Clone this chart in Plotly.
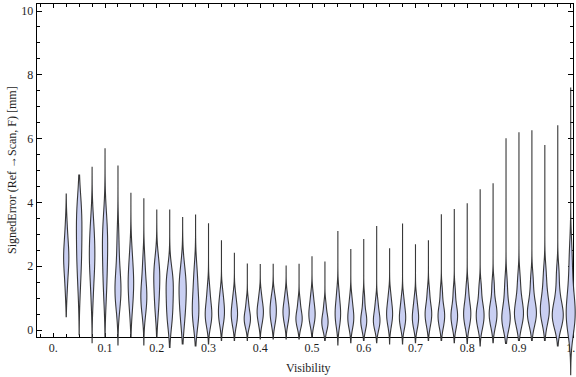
import plotly.graph_objects as go

# ---- data ----
visibility = [0.025, 0.05, 0.075, 0.1, 0.125, 0.15, 0.175, 0.2, 0.225, 0.25,
              0.275, 0.3, 0.325, 0.35, 0.375, 0.4, 0.425, 0.45, 0.475, 0.5,
              0.525, 0.55, 0.575, 0.6, 0.625, 0.65, 0.675, 0.7, 0.725, 0.75,
              0.775, 0.8, 0.825, 0.85, 0.875, 0.9, 0.925, 0.95, 0.975, 1.0]

err_max = [4.26, 4.86, 5.10, 5.70, 5.14, 4.30, 4.11, 3.78, 3.76, 3.54,
           3.60, 3.35, 2.80, 2.42, 2.07, 2.07, 2.06, 2.02, 2.06, 2.31,
           2.13, 3.10, 2.52, 2.85, 3.26, 2.56, 3.34, 2.69, 2.80, 3.63,
           3.79, 3.97, 4.41, 4.60, 6.01, 6.20, 6.26, 5.80, 6.42, 7.60]

err_min = [0.42, -0.15, -0.40, -0.20, -0.47, -0.20, -0.47, -0.22, -0.55, -0.44,
           -0.50, -0.44, -0.33, -0.33, -0.33, -0.28, -0.28, -0.28, -0.28, -0.22,
           -0.33, -0.47, -0.40, -0.33, -0.40, -0.44, -0.44, -0.40, -0.33, -0.33,
           -0.40, -0.42, -0.50, -0.40, -0.42, -0.33, -0.33, -0.33, -0.50, -1.40]

err_body = [
    [1.2, 1.7, 2.0, 2.2, 2.35, 2.5, 2.8, 3.3],
    [1.3, 2.0, 2.3, 2.6, 3.1, 3.5, 3.7, 3.9],
    [1.0, 1.6, 2.0, 2.25, 2.4, 2.7, 3.1, 3.4],
    [1.0, 1.5, 1.9, 2.3, 2.6, 2.9, 3.2, 3.5],
    [0.7, 1.0, 1.2, 1.3, 1.45, 1.8, 2.3, 3.0],
    [0.6, 1.0, 1.3, 1.5, 1.7, 2.0, 2.5],
    [0.5, 0.8, 1.0, 1.15, 1.3, 1.7, 2.2],
    [0.5, 0.9, 1.2, 1.5, 1.75, 1.9, 2.2],
    [0.2, 0.5, 0.8, 1.1, 1.4, 1.6, 1.8],
    [0.2, 0.6, 0.9, 1.2, 1.4, 1.6, 2.0],
    [0.2, 0.4, 0.6, 0.8, 1.1, 1.5, 1.9],
    [0.2, 0.35, 0.5, 0.65, 0.9, 1.3],
    [0.2, 0.4, 0.55, 0.7, 0.9, 1.2],
    [0.15, 0.35, 0.5, 0.6, 0.8, 1.1],
    [0.1, 0.25, 0.35, 0.45, 0.6, 0.9],
    [0.2, 0.4, 0.55, 0.65, 0.8, 1.1],
    [0.2, 0.4, 0.55, 0.7, 0.85, 1.1],
    [0.2, 0.4, 0.55, 0.65, 0.8, 1.1],
    [0.1, 0.25, 0.35, 0.45, 0.6, 0.9],
    [0.2, 0.35, 0.5, 0.6, 0.8, 1.1],
    [0.0, 0.15, 0.25, 0.35, 0.5, 0.8],
    [0.15, 0.35, 0.5, 0.65, 0.85, 1.2],
    [0.1, 0.25, 0.4, 0.5, 0.7, 1.0],
    [0.05, 0.2, 0.3, 0.4, 0.6, 1.0],
    [0.05, 0.2, 0.3, 0.4, 0.6, 0.9],
    [0.15, 0.35, 0.5, 0.6, 0.8, 1.1],
    [0.1, 0.25, 0.4, 0.5, 0.7, 1.0],
    [0.1, 0.25, 0.4, 0.5, 0.7, 1.0],
    [0.15, 0.35, 0.5, 0.6, 0.8, 1.2],
    [0.1, 0.3, 0.45, 0.55, 0.75, 1.2],
    [0.1, 0.3, 0.45, 0.55, 0.75, 1.2],
    [0.15, 0.35, 0.5, 0.65, 0.85, 1.3],
    [0.1, 0.3, 0.45, 0.6, 0.8, 1.3],
    [0.15, 0.35, 0.5, 0.65, 0.85, 1.4],
    [0.1, 0.25, 0.35, 0.45, 0.6, 1.0, 1.5],
    [0.2, 0.35, 0.5, 0.6, 0.75, 1.1, 1.6],
    [0.2, 0.4, 0.5, 0.6, 0.75, 1.1, 1.6],
    [0.3, 0.5, 0.6, 0.7, 0.9, 1.3, 1.8],
    [0.1, 0.3, 0.4, 0.5, 0.6, 0.8, 1.2, 1.8],
    [0.1, 0.25, 0.4, 0.5, 0.65, 0.9, 1.3, 1.9, 2.5],
]

x_tickvals = [0.0, 0.1, 0.2, 0.3, 0.4, 0.5, 0.6, 0.7, 0.8, 0.9, 1.0]
x_ticktext = ["0.", "0.1", "0.2", "0.3", "0.4", "0.5", "0.6", "0.7", "0.8", "0.9", "1."]
y_tickvals = [0, 2, 4, 6, 8, 10]
y_ticktext = ["0", "2", "4", "6", "8", "10"]

x_title = "Visibility"
y_title = "SignedError (Ref \u2192Scan, F) [mm]"

# ---- styling (visual sizes, pixels) ----
peak_width_px = [5.2, 5.5, 5.5, 5.2, 6.0, 5.5, 6.0, 6.0, 7.2, 7.2,
                 6.6, 6.6, 6.0, 6.3, 6.3, 6.3, 6.3, 6.3, 6.3, 6.3,
                 6.3, 5.5, 6.0, 6.0, 6.6, 6.0, 6.3, 6.3, 6.6, 6.6,
                 6.6, 7.2, 7.8, 7.8, 8.4, 9.0, 9.0, 9.0, 11.0, 9.0]

W, H = 576, 377
FONT = "Liberation Serif"
TXT = "#1e1e1e"

# frame geometry (pixels)
fl, fr, ft, fb = 36.7, 573.3, 4.0, 336.5
x0px, xscale = 53.3, 517.4      # x = 0 at 53.3 px, 517.4 px per unit
y0px, yscale = 330.0, 31.9      # y = 0 at 330 px, 31.9 px per unit


def xval(px):
    return (px - x0px) / xscale


def yval(py):
    return (y0px - py) / yscale


fig = go.Figure()

# empty trace so the framed subplot (ticks, labels) is drawn
fig.add_trace(go.Scatter(x=[None], y=[None], xaxis="x", yaxis="y",
                         showlegend=False, hoverinfo="skip"))

for v, lo, hi, body, wpx in zip(visibility, err_min, err_max, err_body, peak_width_px):
    fig.add_trace(go.Violin(
        x=[v] * len(body), y=body,
        xaxis="x2", yaxis="y2",
        spanmode="manual", span=[lo, hi],
        width=wpx / xscale, side="both",
        points=False, box_visible=False, meanline_visible=False,
        fillcolor="rgb(201,207,242)",
        line=dict(color="rgba(45,45,45,0.95)", width=1.1),
        hoverinfo="skip", showlegend=False,
    ))

axis_common = dict(showline=True, linecolor="black", linewidth=1, mirror="allticks",
                   ticks="inside", tickcolor="black", showgrid=False, zeroline=False,
                   tickfont=dict(family=FONT, size=12, color=TXT), automargin=False)

fig.update_layout(
    width=W, height=H,
    margin=dict(l=0, r=0, t=0, b=0),
    paper_bgcolor="white", plot_bgcolor="rgba(0,0,0,0)",
    violinmode="overlay",
    xaxis=dict(domain=[fl / W, fr / W], range=[xval(fl), xval(fr)],
               tickmode="array", tickvals=x_tickvals, ticktext=x_ticktext,
               ticklen=4, tickwidth=1, ticklabeloverflow="allow",
               minor=dict(dtick=0.025, tick0=0, ticks="inside", ticklen=3,
                          tickcolor="black", showgrid=False),
               anchor="y", **axis_common),
    yaxis=dict(domain=[1 - fb / H, 1 - ft / H], range=[yval(fb), yval(ft)],
               tickmode="array", tickvals=y_tickvals, ticktext=y_ticktext,
               ticklen=5, tickwidth=1, ticklabeloverflow="allow",
               minor=dict(dtick=0.5, tick0=0, ticks="inside", ticklen=3,
                          tickcolor="black", showgrid=False),
               anchor="x", **axis_common),
    xaxis2=dict(domain=[0, 1], range=[xval(0), xval(W)], visible=False,
                anchor="y2", fixedrange=True),
    yaxis2=dict(domain=[0, 1], range=[yval(H), yval(0)], visible=False,
                anchor="x2", fixedrange=True),
    annotations=[
        dict(text=x_title, xref="paper", yref="paper", x=308 / W, y=1 - 368 / H,
             xanchor="center", yanchor="middle", showarrow=False,
             font=dict(family=FONT, size=12, color=TXT)),
        dict(text=y_title, xref="paper", yref="paper", x=12 / W, y=1 - 170 / H,
             xanchor="center", yanchor="middle", showarrow=False, textangle=-90,
             font=dict(family=FONT, size=12, color=TXT)),
    ],
)

fig.write_html("out.html", config={"displayModeBar": False},
               post_script="document.body.style.margin='0';document.body.style.overflow='hidden';")
